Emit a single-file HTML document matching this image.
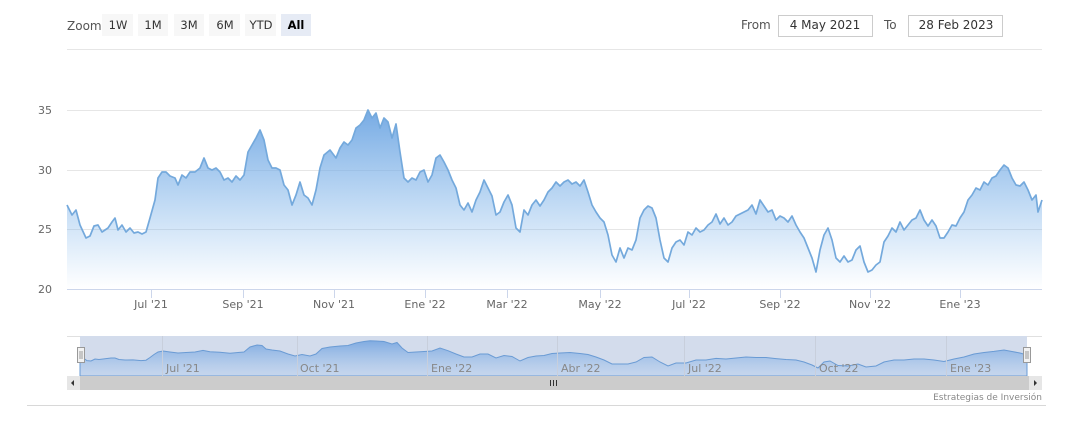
<!DOCTYPE html>
<html><head><meta charset="utf-8"><style>
html,body{margin:0;padding:0;background:#fff;width:1068px;height:421px;overflow:hidden;font-family:"DejaVu Sans","Liberation Sans",sans-serif;}
</style></head><body>
<svg width="1068" height="421" viewBox="0 0 1068 421" xmlns="http://www.w3.org/2000/svg" font-family="DejaVu Sans, Liberation Sans, sans-serif">
<defs>
<linearGradient id="g" x1="0" y1="0" x2="0" y2="1">
<stop offset="0" stop-color="#6fa6e2" stop-opacity="0.95"/>
<stop offset="1" stop-color="#7cb5ec" stop-opacity="0"/>
</linearGradient>
<linearGradient id="gn" x1="0" y1="0" x2="0" y2="1">
<stop offset="0" stop-color="#6a9ede" stop-opacity="0.8"/>
<stop offset="1" stop-color="#a8c8ee" stop-opacity="0.3"/>
</linearGradient>
</defs>
<text x="67" y="30" font-size="12" fill="#555">Zoom</text>
<g font-size="11.5" fill="#333" text-anchor="middle">
<rect x="102" y="14" width="31" height="22" fill="#f7f7f7"/><text x="118" y="29">1W</text>
<rect x="138" y="14" width="30" height="22" fill="#f7f7f7"/><text x="153" y="29">1M</text>
<rect x="174" y="14" width="30" height="22" fill="#f7f7f7"/><text x="189" y="29">3M</text>
<rect x="209" y="14" width="31" height="22" fill="#f7f7f7"/><text x="225" y="29">6M</text>
<rect x="245" y="14" width="31" height="22" fill="#f7f7f7"/><text x="261" y="29">YTD</text>
<rect x="281" y="14" width="30" height="22" fill="#e6ebf5"/><text x="296" y="29" font-weight="bold" fill="#000">All</text>
</g>
<text x="741" y="29" font-size="12" fill="#555">From</text>
<rect x="778.5" y="15.5" width="94" height="21" fill="#fff" stroke="#ccc"/>
<text x="825" y="29" font-size="12" fill="#333" text-anchor="middle">4 May 2021</text>
<text x="884" y="29" font-size="12" fill="#555">To</text>
<rect x="908.5" y="15.5" width="94" height="21" fill="#fff" stroke="#ccc"/>
<text x="956" y="29" font-size="12" fill="#333" text-anchor="middle">28 Feb 2023</text>
<line x1="67" y1="49.5" x2="1042" y2="49.5" stroke="#e6e6e6"/>
<g stroke="#e6e6e6"><line x1="67" y1="110.5" x2="1042" y2="110.5"/><line x1="67" y1="170.5" x2="1042" y2="170.5"/><line x1="67" y1="229.5" x2="1042" y2="229.5"/></g>
<g font-size="11" fill="#666" text-anchor="end"><text x="52" y="114">35</text><text x="52" y="174">30</text><text x="52" y="233">25</text><text x="52" y="293">20</text></g>
<path id="area" d="M67,205 L72,215 76,210 80,225 86,238 90,236 94,226 98,225 102,232 108,228 112,222 115,218 118,230 122,225 126,232 130,228 134,233 138,232 142,234 146,232 150,218 155,200 158,178 162,172 166,172 170,176 175,178 178,185 182,175 186,178 190,172 195,172 200,168 204,158 208,168 212,170 216,168 220,172 224,180 228,178 232,182 236,176 240,180 244,175 248,152 252,145 256,138 260,130 264,140 268,160 272,168 276,168 280,170 284,185 288,190 292,205 296,195 300,182 304,195 308,198 312,205 316,190 320,168 324,155 330,150 336,158 340,148 344,142 348,145 352,140 356,128 360,125 364,120 368,110 372,118 376,113 380,128 384,118 388,122 392,138 396,124 400,152 404,178 408,182 412,178 416,180 420,172 424,170 428,182 432,175 436,158 440,155 444,162 448,170 452,180 456,188 460,205 464,210 468,203 472,212 476,200 480,192 484,180 488,188 492,196 496,215 500,212 504,202 508,195 512,205 516,228 520,232 524,210 528,215 532,205 536,200 540,206 544,200 548,192 552,188 556,182 560,186 564,182 568,180 572,184 576,182 580,186 584,180 588,192 592,205 596,212 600,218 604,222 608,235 612,255 616,262 620,248 624,258 628,248 632,250 636,240 640,218 644,210 648,206 652,208 656,218 660,240 664,258 668,262 672,248 676,242 680,240 684,245 688,232 692,235 696,228 700,232 704,230 708,225 712,222 716,214 720,224 724,218 728,225 732,222 736,216 740,214 744,212 748,210 752,205 756,214 760,200 764,206 768,212 772,210 776,220 780,216 784,218 788,222 792,216 796,225 800,232 804,238 808,248 812,258 816,272 820,250 824,235 828,228 832,240 836,258 840,262 844,256 848,262 852,260 856,250 860,246 864,262 868,272 872,270 876,265 880,262 884,242 888,236 892,228 896,232 900,222 904,230 908,225 912,220 916,218 920,210 924,220 928,226 932,220 936,226 940,238 944,238 948,232 952,225 956,226 960,218 964,212 968,200 972,195 976,188 980,190 984,182 988,185 992,178 996,176 1000,170 1004,165 1008,168 1012,178 1016,185 1020,186 1024,182 1028,190 1032,200 1036,195 1038,212 1042,200" fill="none"/>
<path d="M67,205 L72,215 76,210 80,225 86,238 90,236 94,226 98,225 102,232 108,228 112,222 115,218 118,230 122,225 126,232 130,228 134,233 138,232 142,234 146,232 150,218 155,200 158,178 162,172 166,172 170,176 175,178 178,185 182,175 186,178 190,172 195,172 200,168 204,158 208,168 212,170 216,168 220,172 224,180 228,178 232,182 236,176 240,180 244,175 248,152 252,145 256,138 260,130 264,140 268,160 272,168 276,168 280,170 284,185 288,190 292,205 296,195 300,182 304,195 308,198 312,205 316,190 320,168 324,155 330,150 336,158 340,148 344,142 348,145 352,140 356,128 360,125 364,120 368,110 372,118 376,113 380,128 384,118 388,122 392,138 396,124 400,152 404,178 408,182 412,178 416,180 420,172 424,170 428,182 432,175 436,158 440,155 444,162 448,170 452,180 456,188 460,205 464,210 468,203 472,212 476,200 480,192 484,180 488,188 492,196 496,215 500,212 504,202 508,195 512,205 516,228 520,232 524,210 528,215 532,205 536,200 540,206 544,200 548,192 552,188 556,182 560,186 564,182 568,180 572,184 576,182 580,186 584,180 588,192 592,205 596,212 600,218 604,222 608,235 612,255 616,262 620,248 624,258 628,248 632,250 636,240 640,218 644,210 648,206 652,208 656,218 660,240 664,258 668,262 672,248 676,242 680,240 684,245 688,232 692,235 696,228 700,232 704,230 708,225 712,222 716,214 720,224 724,218 728,225 732,222 736,216 740,214 744,212 748,210 752,205 756,214 760,200 764,206 768,212 772,210 776,220 780,216 784,218 788,222 792,216 796,225 800,232 804,238 808,248 812,258 816,272 820,250 824,235 828,228 832,240 836,258 840,262 844,256 848,262 852,260 856,250 860,246 864,262 868,272 872,270 876,265 880,262 884,242 888,236 892,228 896,232 900,222 904,230 908,225 912,220 916,218 920,210 924,220 928,226 932,220 936,226 940,238 944,238 948,232 952,225 956,226 960,218 964,212 968,200 972,195 976,188 980,190 984,182 988,185 992,178 996,176 1000,170 1004,165 1008,168 1012,178 1016,185 1020,186 1024,182 1028,190 1032,200 1036,195 1038,212 1042,200 L1042,289 L67,289 Z" fill="url(#g)"/>
<use href="#area" stroke="#74a9dc" stroke-width="1.7" stroke-linejoin="round"/>
<line x1="67" y1="289.5" x2="1042" y2="289.5" stroke="#ccd6eb"/>
<g stroke="#ccd6eb"><line x1="151.5" y1="289" x2="151.5" y2="298"/><line x1="243.5" y1="289" x2="243.5" y2="298"/><line x1="334.5" y1="289" x2="334.5" y2="298"/><line x1="425.5" y1="289" x2="425.5" y2="298"/><line x1="507.5" y1="289" x2="507.5" y2="298"/><line x1="600.5" y1="289" x2="600.5" y2="298"/><line x1="689.5" y1="289" x2="689.5" y2="298"/><line x1="780.5" y1="289" x2="780.5" y2="298"/><line x1="870.5" y1="289" x2="870.5" y2="298"/><line x1="960.5" y1="289" x2="960.5" y2="298"/></g>
<g font-size="11" fill="#666" text-anchor="middle">
<text x="151" y="308">Jul '21</text><text x="243" y="308">Sep '21</text><text x="334" y="308">Nov '21</text><text x="425" y="308">Ene '22</text><text x="507" y="308">Mar '22</text><text x="600" y="308">May '22</text><text x="689" y="308">Jul '22</text><text x="780" y="308">Sep '22</text><text x="870" y="308">Nov '22</text><text x="960" y="308">Ene '23</text>
</g>
<line x1="67" y1="336.5" x2="1042" y2="336.5" stroke="#e0e0e0"/>
<rect x="80" y="336" width="947" height="40" fill="#d3dcec"/>
<path d="M80,356.7 L84,358.5 L87,360.6 L91,361 L95,359 L99,359.5 L105,358.8 L111,358 L115,358 L119,359.5 L125,360 L133,359.9 L141,360.6 L146,360.2 L150,357.5 L154,354.5 L158,352 L163,351 L170,352 L178,353 L186,352.5 L195,352 L203,350.4 L210,351.8 L220,352.2 L230,353.2 L238,352.5 L244,352 L250,347 L257,345 L262,345.5 L266,349 L272,350 L280,351 L288,354 L295,356 L302,354.5 L310,356 L316,354 L322,348.5 L330,347 L340,346 L348,345.5 L356,343 L364,341.5 L370,340.7 L376,341 L384,341.5 L392,344 L397,342.5 L402,348 L408,352.5 L416,352 L424,351.5 L432,351 L440,348 L448,350.7 L456,354 L464,357 L472,357 L480,354 L488,354 L496,358 L504,355.5 L512,356.5 L520,361 L528,357.5 L536,356 L544,355.5 L552,353.5 L560,353 L570,352.5 L580,353.5 L588,354.5 L596,357 L604,360 L612,364 L620,364 L628,364 L636,362 L644,357.5 L652,357 L660,362 L668,366 L676,363 L686,363 L696,360 L706,360 L716,358.4 L726,359 L736,358 L746,357 L756,357.5 L766,357.5 L776,358.6 L786,359.5 L796,360 L804,362 L812,365 L818,368 L824,362 L830,361 L838,365.5 L848,366 L858,364 L866,367 L876,366 L884,362 L894,360 L904,360 L914,359 L924,359 L934,360 L944,361.5 L954,359 L964,357 L974,354 L984,352.5 L994,351.4 L1004,350 L1012,351.5 L1020,353 L1027,355 L1027,376 L80,376 Z" fill="url(#gn)" stroke="#6a9bd4" stroke-width="1"/>
<g stroke="#c8cfdc"><line x1="162.5" y1="336" x2="162.5" y2="376"/><line x1="297.5" y1="336" x2="297.5" y2="376"/><line x1="427.5" y1="336" x2="427.5" y2="376"/><line x1="557.5" y1="336" x2="557.5" y2="376"/><line x1="684.5" y1="336" x2="684.5" y2="376"/><line x1="815.5" y1="336" x2="815.5" y2="376"/><line x1="946.5" y1="336" x2="946.5" y2="376"/></g>
<g font-size="11" fill="#888">
<text x="166" y="372">Jul '21</text><text x="300" y="372">Oct '21</text><text x="431" y="372">Ene '22</text><text x="561" y="372">Abr '22</text><text x="688" y="372">Jul '22</text><text x="819" y="372">Oct '22</text><text x="950" y="372">Ene '23</text>
</g>
<rect x="77.5" y="347.5" width="7" height="15" fill="#f2f2f2" stroke="#999"/>
<g stroke="#999"><line x1="80" y1="351" x2="80" y2="359"/><line x1="82" y1="351" x2="82" y2="359"/></g>
<rect x="1023.5" y="347.5" width="7" height="15" fill="#f2f2f2" stroke="#999"/>
<g stroke="#999"><line x1="1026" y1="351" x2="1026" y2="359"/><line x1="1028" y1="351" x2="1028" y2="359"/></g>
<rect x="67" y="376" width="975" height="14" fill="#cccccc"/>
<rect x="67" y="376" width="13" height="14" fill="#e6e6e6"/>
<rect x="1029" y="376" width="13" height="14" fill="#e6e6e6"/>
<path d="M74,380 L71,383 L74,386 Z" fill="#333"/>
<path d="M1034,380 L1037,383 L1034,386 Z" fill="#333"/>
<g stroke="#333"><line x1="550.5" y1="380" x2="550.5" y2="386"/><line x1="553.5" y1="380" x2="553.5" y2="386"/><line x1="556.5" y1="380" x2="556.5" y2="386"/></g>
<text x="1042" y="400" font-size="9" fill="#888" text-anchor="end">Estrategias de Inversión</text>
<line x1="27" y1="405.5" x2="1046" y2="405.5" stroke="#d8d8d8"/>
</svg>
</body></html>
